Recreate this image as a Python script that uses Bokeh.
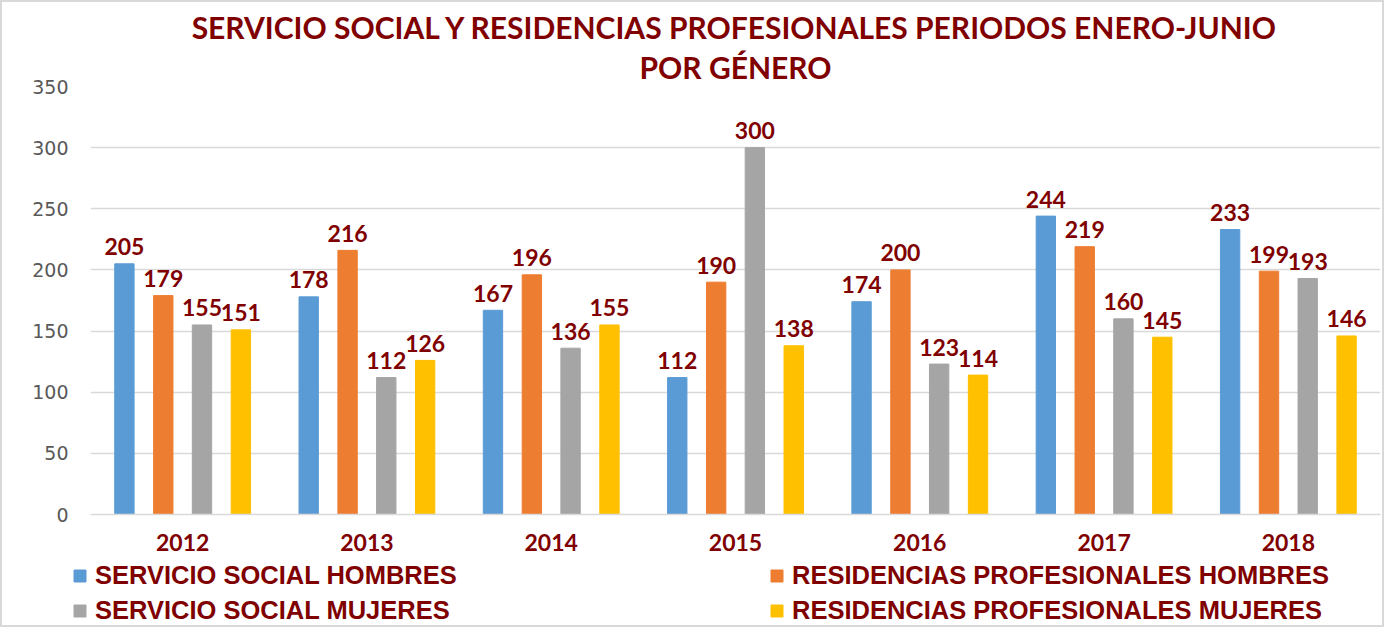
from bokeh.plotting import figure
from bokeh.layouts import column
from bokeh.models import (ColumnDataSource, FactorRange, Range1d, FixedTicker, Legend,
                          LegendItem, Title)
from bokeh.transform import dodge
from bokeh.core.properties import value
from bokeh.embed import file_html
from bokeh.resources import INLINE

years = ["2012", "2013", "2014", "2015", "2016", "2017", "2018"]
ss_hombres = [205, 178, 167, 112, 174, 244, 233]
rp_hombres = [179, 216, 196, 190, 200, 219, 199]
ss_mujeres = [155, 112, 136, 300, 123, 160, 193]
rp_mujeres = [151, 126, 155, 138, 114, 145, 146]

series_names = ["SERVICIO SOCIAL HOMBRES", "RESIDENCIAS PROFESIONALES HOMBRES",
                "SERVICIO SOCIAL MUJERES", "RESIDENCIAS PROFESIONALES MUJERES"]
series_keys = ["ssh", "rph", "ssm", "rpm"]
colors = ["#5B9BD5", "#ED7D31", "#A5A5A5", "#FFC000"]
offsets = [-0.316, -0.105, 0.105, 0.316]
DARK_RED = "#800000"

data = dict(year=years, ssh=ss_hombres, rph=rp_hombres, ssm=ss_mujeres, rpm=rp_mujeres)
for k in series_keys:
    data[k + "_t"] = [str(v) for v in data[k]]
source = ColumnDataSource(data)

p = figure(x_range=FactorRange(*years, range_padding=0), y_range=Range1d(0, 350),
           width=1380, height=559, output_backend="svg", toolbar_location=None,
           min_border_left=88, min_border_right=2, min_border_top=84, min_border_bottom=47)
p.outline_line_color = None
p.background_fill_color = "white"

# titles
p.add_layout(Title(text="POR GÉNERO", align="center", text_font="Lato",
                   text_font_style="bold", text_font_size="30px", text_color=DARK_RED,
                   standoff=4, offset=0), "above")
p.add_layout(Title(text="SERVICIO SOCIAL Y RESIDENCIAS PROFESIONALES PERIODOS ENERO-JUNIO",
                   align="center", text_font="Lato", text_font_style="bold",
                   text_font_size="30px", text_color=DARK_RED, standoff=0, offset=0), "above")

for k, c, off in zip(series_keys, colors, offsets):
    p.vbar(x=dodge("year", off, range=p.x_range), top=k, width=0.105, source=source,
           fill_color=c, line_color=c)
    p.text(x=dodge("year", off, range=p.x_range), y=k, text=k + "_t", source=source,
           text_align="center", text_baseline="alphabetic", y_offset=-17,
           text_font=value("Lato"), text_font_style="bold", text_font_size="23px",
           text_color=DARK_RED)

# axes
p.yaxis.ticker = FixedTicker(ticks=[0, 50, 100, 150, 200, 250, 300, 350])
p.yaxis.axis_line_color = None
p.yaxis.major_tick_line_color = None
p.yaxis.minor_tick_line_color = None
p.yaxis.major_tick_out = 0
p.yaxis.major_label_standoff = 22
p.yaxis.major_label_text_font = "DejaVu Sans"
p.yaxis.major_label_text_font_size = "19px"
p.yaxis.major_label_text_color = "#595959"

p.xaxis.axis_line_color = "#D9D9D9"
p.xaxis.axis_line_width = 1.5
p.xaxis.major_tick_line_color = None
p.xaxis.minor_tick_line_color = None
p.xaxis.major_tick_out = 0
p.xaxis.major_label_standoff = 19
p.xaxis.major_label_text_font = "Lato"
p.xaxis.major_label_text_font_style = "bold"
p.xaxis.major_label_text_font_size = "23px"
p.xaxis.major_label_text_color = DARK_RED

p.xgrid.grid_line_color = None
p.ygrid.grid_line_color = "#D9D9D9"
p.ygrid.grid_line_width = 1.5

# legend strip (proxy glyphs lie outside the visible range; only their legend swatches show)
q = figure(x_range=Range1d(0, 1), y_range=Range1d(0, 1), width=1380, height=64,
           output_backend="svg", toolbar_location=None,
           min_border_left=0, min_border_right=0, min_border_top=0, min_border_bottom=0)
q.axis.visible = False
q.grid.visible = False
q.outline_line_color = None
if "frame_align" in q.properties():
    q.frame_align = False
    p.frame_align = False
proxies = [q.vbar(x=[5], top=[5], width=0.1, fill_color=c, line_color=c) for c in colors]

common = dict(label_text_font="Liberation Sans", label_text_font_style="bold",
              label_text_font_size="25.5px", label_text_color=DARK_RED,
              glyph_width=15, glyph_height=15, label_standoff=8,
              spacing=6, padding=0, margin=0, border_line_color=None,
              background_fill_alpha=0, orientation="vertical")
leg_left = Legend(items=[LegendItem(label=series_names[0], renderers=[proxies[0]]),
                         LegendItem(label=series_names[2], renderers=[proxies[2]])],
                  location=(70, 0), **common)
leg_right = Legend(items=[LegendItem(label=series_names[1], renderers=[proxies[1]]),
                          LegendItem(label=series_names[3], renderers=[proxies[3]])],
                   location=(767, 0), **common)
q.add_layout(leg_left, "center")
q.add_layout(leg_right, "center")

layout = column(p, q, styles={"border": "2px solid #D9D9D9"})

open("out.html", "w").write(file_html(layout, INLINE))
